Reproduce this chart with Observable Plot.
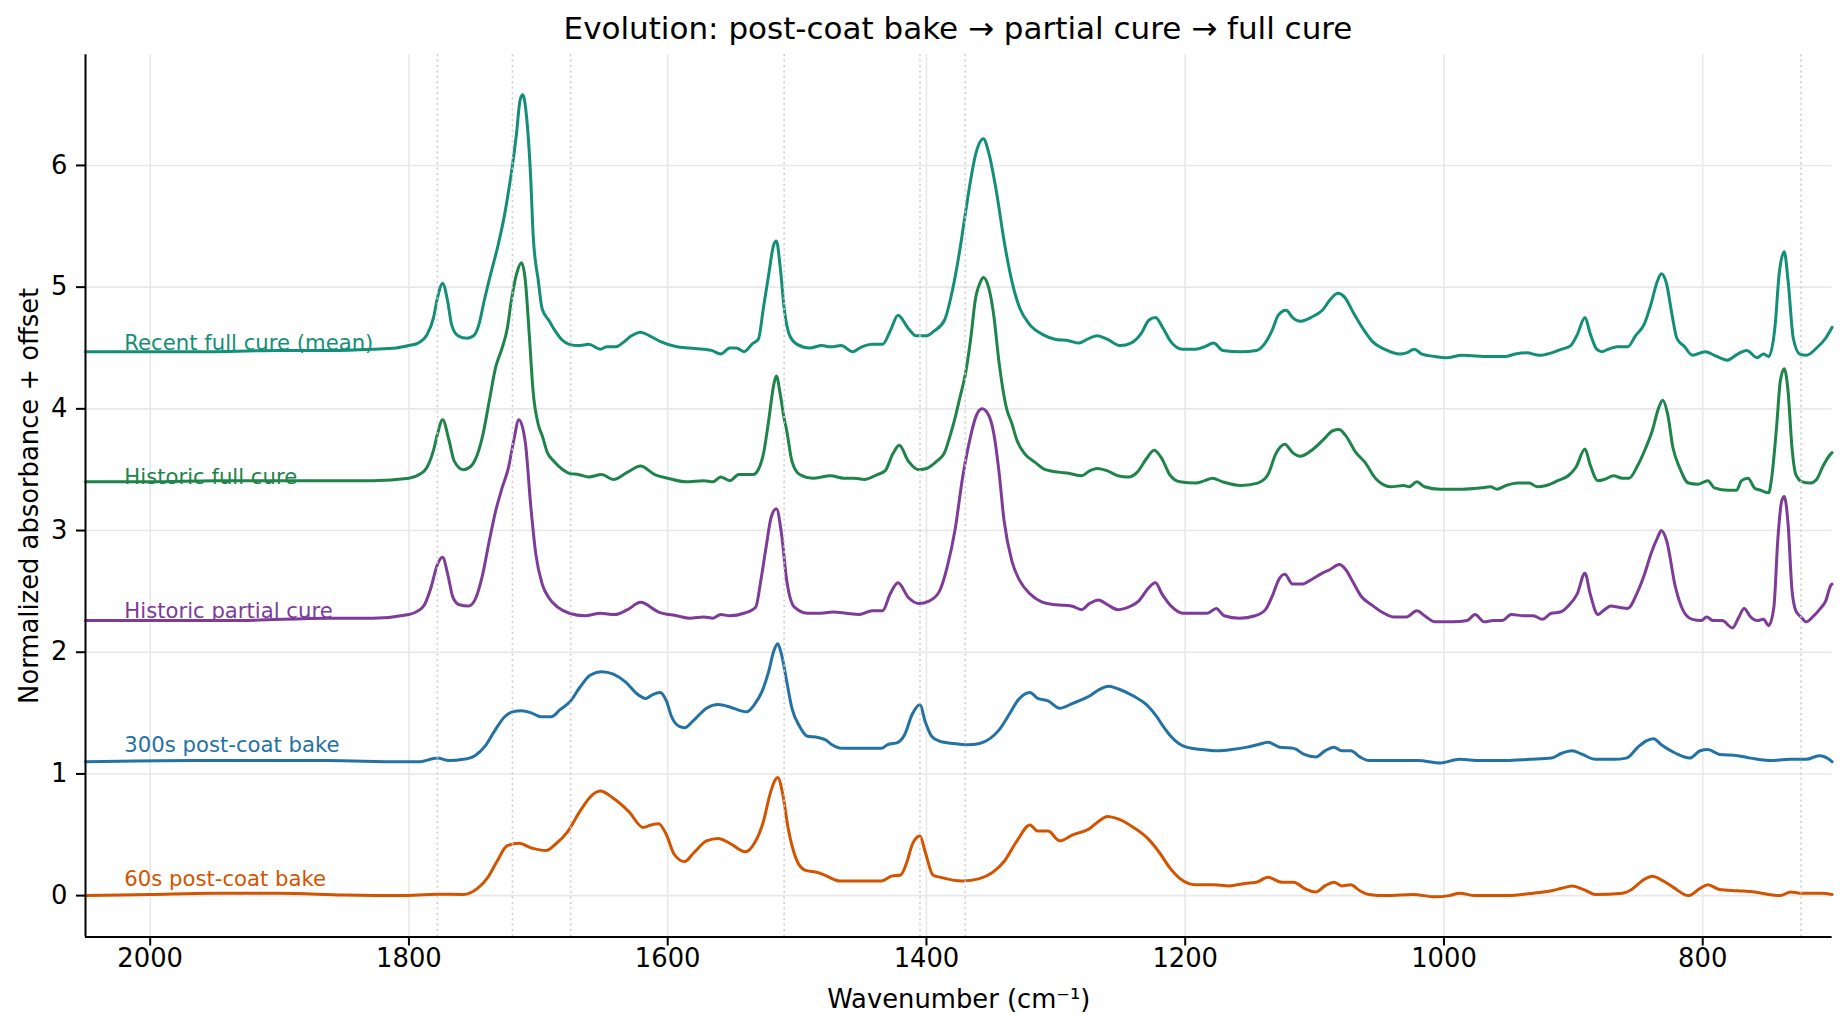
<!DOCTYPE html>
<html>
<head>
<meta charset="utf-8">
<script src="https://cdn.jsdelivr.net/npm/d3@7"></script>
<script src="https://cdn.jsdelivr.net/npm/@observablehq/plot@0.6"></script>
<style>
  html, body { margin: 0; padding: 0; background: white; }
  #wrap { position: relative; width: 1847px; height: 1031px; overflow: hidden; font-family: "DejaVu Sans", sans-serif; }
  #title { position: absolute; top: 13px; left: 958px; transform: translateX(-50%); white-space: nowrap;
           font-size: 31px; line-height: 31px; color: #000; }
  #chart { position: absolute; top: 48px; left: 0; }
</style>
</head>
<body>
<div id="wrap">
  <div id="title">Evolution: post-coat bake → partial cure → full cure</div>
  <div id="chart"></div>
</div>
<script>
// ---- data: [wavenumber (cm-1), normalized absorbance + offset] ----
const seriesNames = ["60s post-coat bake", "300s post-coat bake", "Historic partial cure", "Historic full cure", "Recent full cure (mean)"];
const seriesColors = ["#d35400", "#2471a3", "#7d3c98", "#1e8449", "#148f77"];
const seriesOffsets = [0, 1.1, 2.2, 3.3, 4.4];
const markerWavenumbers = [1778, 1720, 1675, 1510, 1405, 1370, 724];
const xTicks = [2000, 1800, 1600, 1400, 1200, 1000, 800];
const yTicks = [0, 1, 2, 3, 4, 5, 6];

const bake60 = [[2050,0.0],[2000,0.01],[1950,0.02],[1900,0.02],[1850,0.005],[1807,0.0],[1778,0.012],[1758,0.01],[1747,0.06],[1739,0.15],[1732,0.28],[1724,0.41],[1715,0.43],[1705,0.39],[1694,0.37],[1687,0.42],[1677,0.53],[1668,0.69],[1658,0.83],[1652,0.86],[1642,0.8],[1630,0.69],[1619,0.56],[1613,0.58],[1607,0.59],[1601,0.5],[1595,0.34],[1587,0.28],[1580,0.35],[1570,0.45],[1561,0.47],[1552,0.43],[1540,0.36],[1533,0.43],[1526,0.61],[1521,0.83],[1517,0.95],[1515,0.97],[1511,0.83],[1507,0.56],[1501,0.31],[1494,0.21],[1484,0.19],[1477,0.16],[1467,0.12],[1454,0.12],[1444,0.12],[1435,0.12],[1427,0.16],[1420,0.17],[1415,0.28],[1411,0.42],[1405,0.49],[1401,0.36],[1395,0.17],[1389,0.15],[1372,0.12],[1359,0.14],[1349,0.19],[1340,0.28],[1330,0.45],[1320,0.58],[1314,0.53],[1306,0.53],[1297,0.45],[1287,0.5],[1274,0.55],[1267,0.61],[1260,0.65],[1252,0.63],[1240,0.56],[1229,0.47],[1219,0.34],[1212,0.23],[1204,0.14],[1192,0.09],[1178,0.09],[1166,0.08],[1154,0.1],[1145,0.11],[1136,0.15],[1125,0.11],[1116,0.11],[1108,0.06],[1099,0.03],[1092,0.08],[1085,0.11],[1079,0.08],[1072,0.09],[1065,0.04],[1058,0.01],[1044,0.0],[1024,0.01],[1007,-0.01],[996,0.0],[988,0.02],[976,0.0],[952,0.0],[931,0.02],[917,0.04],[909,0.06],[901,0.08],[892,0.05],[883,0.01],[862,0.02],[855,0.05],[847,0.12],[839,0.16],[832,0.13],[823,0.07],[811,0.0],[802,0.06],[796,0.09],[787,0.05],[773,0.04],[760,0.03],[749,0.01],[740,0.0],[732,0.03],[725,0.02],[715,0.02],[708,0.02],[700,0.01]];

const bake300 = [[2050,1.1],[1966,1.11],[1932,1.11],[1863,1.11],[1807,1.1],[1792,1.1],[1778,1.13],[1769,1.11],[1758,1.12],[1749,1.15],[1741,1.23],[1734,1.35],[1726,1.47],[1720,1.51],[1713,1.52],[1705,1.5],[1698,1.47],[1690,1.47],[1683,1.53],[1675,1.6],[1668,1.71],[1660,1.81],[1651,1.84],[1642,1.82],[1632,1.75],[1625,1.67],[1617,1.62],[1612,1.65],[1606,1.67],[1601,1.6],[1597,1.47],[1591,1.39],[1587,1.38],[1580,1.44],[1570,1.54],[1561,1.57],[1552,1.55],[1544,1.52],[1539,1.51],[1533,1.57],[1527,1.68],[1522,1.84],[1518,2.01],[1515,2.07],[1512,1.98],[1508,1.76],[1504,1.54],[1498,1.39],[1492,1.31],[1484,1.3],[1478,1.28],[1473,1.24],[1465,1.21],[1454,1.21],[1443,1.21],[1435,1.21],[1430,1.24],[1422,1.26],[1417,1.32],[1411,1.49],[1405,1.57],[1401,1.43],[1396,1.31],[1390,1.27],[1379,1.25],[1368,1.24],[1359,1.25],[1351,1.29],[1344,1.36],[1336,1.49],[1329,1.61],[1320,1.67],[1314,1.62],[1306,1.6],[1297,1.54],[1287,1.58],[1274,1.64],[1267,1.69],[1259,1.72],[1252,1.7],[1240,1.64],[1229,1.56],[1222,1.47],[1217,1.39],[1212,1.32],[1205,1.25],[1199,1.22],[1187,1.2],[1175,1.19],[1164,1.2],[1152,1.22],[1144,1.24],[1136,1.26],[1127,1.22],[1116,1.21],[1108,1.16],[1099,1.14],[1092,1.19],[1085,1.22],[1079,1.19],[1072,1.19],[1065,1.14],[1058,1.11],[1044,1.11],[1020,1.11],[1003,1.09],[988,1.12],[972,1.11],[952,1.11],[934,1.12],[917,1.13],[909,1.17],[901,1.19],[893,1.16],[883,1.12],[869,1.12],[859,1.13],[850,1.22],[844,1.27],[838,1.29],[832,1.24],[821,1.17],[810,1.13],[802,1.19],[796,1.2],[787,1.16],[773,1.15],[763,1.13],[749,1.11],[732,1.12],[720,1.12],[710,1.15],[701,1.11],[700,1.1]];

const historicPartial = [[2050,2.26],[2000,2.26],[1932,2.26],[1863,2.28],[1828,2.28],[1800,2.31],[1793,2.34],[1788,2.39],[1783,2.53],[1778,2.72],[1774,2.78],[1770,2.64],[1766,2.45],[1761,2.39],[1754,2.38],[1749,2.43],[1743,2.64],[1738,2.91],[1733,3.16],[1728,3.35],[1723,3.52],[1719,3.74],[1715,3.91],[1710,3.72],[1706,3.22],[1702,2.81],[1697,2.56],[1692,2.45],[1685,2.37],[1676,2.32],[1664,2.3],[1652,2.32],[1641,2.31],[1631,2.35],[1621,2.41],[1607,2.33],[1593,2.3],[1583,2.28],[1572,2.29],[1565,2.28],[1559,2.31],[1552,2.3],[1541,2.32],[1532,2.37],[1528,2.59],[1524,2.86],[1520,3.11],[1516,3.18],[1512,2.97],[1508,2.59],[1502,2.37],[1492,2.32],[1484,2.32],[1472,2.33],[1462,2.32],[1452,2.31],[1442,2.34],[1434,2.34],[1428,2.48],[1422,2.57],[1414,2.45],[1406,2.4],[1398,2.42],[1390,2.5],[1384,2.7],[1378,3.0],[1372,3.44],[1366,3.77],[1362,3.93],[1357,4.0],[1352,3.95],[1348,3.8],[1344,3.49],[1340,3.08],[1334,2.75],[1328,2.59],[1320,2.48],[1310,2.41],[1300,2.39],[1288,2.38],[1280,2.35],[1274,2.4],[1267,2.43],[1260,2.39],[1252,2.35],[1242,2.38],[1236,2.42],[1229,2.52],[1223,2.57],[1218,2.48],[1210,2.37],[1202,2.32],[1192,2.32],[1183,2.32],[1176,2.36],[1170,2.3],[1158,2.28],[1146,2.3],[1138,2.35],[1132,2.48],[1128,2.59],[1123,2.64],[1117,2.56],[1110,2.56],[1102,2.6],[1094,2.65],[1088,2.68],[1081,2.72],[1076,2.68],[1070,2.57],[1064,2.46],[1056,2.39],[1048,2.33],[1039,2.29],[1029,2.29],[1021,2.34],[1015,2.3],[1007,2.25],[993,2.25],[982,2.26],[976,2.31],[969,2.25],[962,2.26],[955,2.26],[948,2.31],[938,2.3],[931,2.3],[924,2.27],[917,2.32],[910,2.33],[904,2.38],[897,2.48],[891,2.65],[887,2.48],[881,2.31],[877,2.34],[871,2.38],[865,2.37],[858,2.36],[851,2.48],[845,2.64],[840,2.81],[835,2.94],[832,3.0],[828,2.92],[821,2.53],[815,2.34],[808,2.27],[801,2.26],[797,2.29],[792,2.26],[785,2.26],[777,2.2],[772,2.29],[768,2.36],[763,2.29],[758,2.26],[753,2.27],[749,2.22],[745,2.37],[742,2.92],[739,3.24],[737,3.28],[734,3.05],[731,2.51],[728,2.34],[724,2.29],[720,2.25],[715,2.29],[709,2.36],[705,2.42],[701,2.55],[700,2.56]];

const historicFull = [[2050,3.4],[2000,3.4],[1950,3.41],[1900,3.41],[1860,3.41],[1828,3.41],[1800,3.43],[1792,3.46],[1786,3.52],[1781,3.66],[1778,3.79],[1774,3.91],[1769,3.74],[1765,3.57],[1758,3.5],[1752,3.53],[1746,3.66],[1743,3.78],[1738,4.06],[1733,4.34],[1728,4.5],[1724,4.66],[1721,4.88],[1717,5.1],[1713,5.2],[1710,5.05],[1707,4.61],[1704,4.14],[1700,3.87],[1697,3.78],[1693,3.64],[1688,3.57],[1681,3.5],[1676,3.47],[1669,3.46],[1661,3.44],[1651,3.46],[1642,3.42],[1631,3.48],[1621,3.53],[1610,3.46],[1600,3.43],[1586,3.4],[1572,3.41],[1565,3.4],[1559,3.44],[1552,3.41],[1545,3.46],[1534,3.46],[1530,3.5],[1526,3.63],[1522,3.9],[1518,4.2],[1516,4.27],[1513,4.12],[1510,3.92],[1508,3.82],[1504,3.57],[1498,3.46],[1488,3.43],[1474,3.45],[1464,3.43],[1456,3.43],[1448,3.42],[1438,3.46],[1432,3.49],[1426,3.63],[1421,3.7],[1414,3.57],[1406,3.5],[1400,3.51],[1392,3.57],[1386,3.64],[1382,3.77],[1378,3.92],[1374,4.1],[1370,4.28],[1366,4.56],[1362,4.91],[1358,5.05],[1356,5.08],[1352,5.0],[1348,4.77],[1344,4.39],[1338,4.0],[1334,3.88],[1330,3.74],[1324,3.63],[1316,3.56],[1308,3.5],[1298,3.48],[1290,3.47],[1280,3.45],[1274,3.49],[1268,3.51],[1260,3.49],[1252,3.45],[1244,3.44],[1237,3.48],[1230,3.59],[1224,3.66],[1218,3.59],[1212,3.46],[1204,3.4],[1192,3.39],[1185,3.41],[1179,3.43],[1171,3.4],[1157,3.37],[1144,3.39],[1136,3.46],[1130,3.63],[1123,3.71],[1117,3.64],[1111,3.61],[1101,3.67],[1092,3.76],[1086,3.82],[1081,3.83],[1076,3.78],[1068,3.64],[1061,3.56],[1053,3.43],[1041,3.36],[1031,3.37],[1027,3.36],[1021,3.4],[1015,3.36],[1003,3.34],[986,3.34],[972,3.35],[964,3.36],[959,3.34],[952,3.37],[943,3.39],[934,3.39],[928,3.36],[921,3.37],[912,3.41],[904,3.45],[898,3.52],[891,3.67],[887,3.54],[881,3.41],[876,3.42],[869,3.45],[862,3.43],[857,3.43],[850,3.54],[844,3.68],[839,3.82],[834,4.01],[831,4.07],[827,3.95],[823,3.68],[818,3.52],[811,3.39],[804,3.38],[796,3.41],[791,3.35],[780,3.33],[774,3.33],[770,3.41],[765,3.43],[760,3.35],[755,3.33],[749,3.31],[747,3.41],[743,3.84],[740,4.23],[737,4.33],[734,4.14],[731,3.68],[728,3.46],[723,3.4],[717,3.39],[712,3.42],[707,3.53],[701,3.63],[700,3.64]];

const recentFull = [[2050,4.47],[2000,4.47],[1950,4.47],[1900,4.48],[1860,4.48],[1828,4.49],[1810,4.5],[1800,4.52],[1793,4.54],[1786,4.61],[1781,4.75],[1778,4.91],[1774,5.03],[1770,4.88],[1767,4.69],[1762,4.6],[1755,4.58],[1750,4.6],[1746,4.69],[1742,4.88],[1737,5.1],[1731,5.35],[1726,5.6],[1723,5.79],[1720,6.0],[1717,6.25],[1714,6.54],[1712,6.58],[1709,6.39],[1706,5.92],[1704,5.43],[1700,5.05],[1697,4.82],[1692,4.73],[1687,4.64],[1682,4.57],[1676,4.53],[1669,4.52],[1661,4.53],[1652,4.49],[1647,4.51],[1640,4.51],[1635,4.54],[1628,4.6],[1621,4.63],[1614,4.6],[1605,4.55],[1593,4.51],[1583,4.5],[1572,4.49],[1566,4.48],[1559,4.45],[1552,4.5],[1547,4.5],[1541,4.47],[1534,4.54],[1530,4.57],[1526,4.83],[1522,5.1],[1518,5.35],[1516,5.38],[1513,5.16],[1510,4.83],[1506,4.61],[1500,4.53],[1490,4.5],[1481,4.52],[1474,4.51],[1466,4.52],[1457,4.47],[1450,4.51],[1442,4.53],[1434,4.53],[1428,4.64],[1422,4.77],[1414,4.66],[1408,4.6],[1400,4.6],[1394,4.64],[1386,4.73],[1380,4.97],[1374,5.32],[1370,5.6],[1366,5.87],[1362,6.09],[1356,6.22],[1352,6.11],[1346,5.79],[1340,5.38],[1334,5.05],[1328,4.83],[1320,4.69],[1310,4.61],[1300,4.57],[1290,4.56],[1282,4.54],[1276,4.57],[1268,4.6],[1260,4.57],[1250,4.52],[1242,4.54],[1234,4.62],[1228,4.73],[1223,4.75],[1217,4.66],[1211,4.55],[1202,4.49],[1192,4.49],[1185,4.51],[1178,4.54],[1171,4.48],[1157,4.47],[1145,4.48],[1139,4.53],[1133,4.64],[1128,4.77],[1122,4.81],[1117,4.75],[1111,4.72],[1103,4.75],[1094,4.81],[1087,4.91],[1082,4.95],[1077,4.92],[1070,4.79],[1062,4.65],[1055,4.55],[1046,4.49],[1034,4.45],[1029,4.46],[1023,4.49],[1017,4.45],[1007,4.43],[998,4.42],[986,4.44],[965,4.43],[953,4.43],[945,4.45],[936,4.46],[926,4.44],[917,4.46],[909,4.49],[902,4.52],[897,4.61],[891,4.75],[887,4.62],[882,4.49],[878,4.47],[873,4.49],[866,4.51],[858,4.51],[852,4.6],[845,4.7],[840,4.86],[835,5.05],[832,5.11],[828,5.03],[824,4.79],[820,4.58],[814,4.51],[808,4.44],[798,4.47],[791,4.44],[781,4.4],[773,4.45],[766,4.48],[758,4.42],[753,4.45],[749,4.43],[744,4.69],[741,5.1],[737,5.29],[734,5.05],[730,4.58],[725,4.45],[720,4.44],[712,4.5],[705,4.58],[700,4.67]];

const seriesData = [bake60, bake300, historicPartial, historicFull, recentFull];
const labelWavenumber = 2020;

// ---- build ----
const W = 1847, H = 983;
const lineMarks = seriesData.map((data, i) =>
  Plot.line(data, {x: d => d[0], y: d => d[1], stroke: seriesColors[i], strokeWidth: 3, curve: "monotone-x"})
);
const labelMarks = seriesNames.map((name, i) =>
  Plot.text([name], {x: labelWavenumber, y: seriesOffsets[i] + 0.08, text: d => d, fill: seriesColors[i],
    textAnchor: "start", lineAnchor: "bottom", fontSize: 21.2})
);

const chart = Plot.plot({
  width: W, height: H,
  marginLeft: 85, marginRight: 15.4, marginTop: 6.2, marginBottom: 94.5,
  style: {fontFamily: "DejaVu Sans", fontSize: "25.8px", background: "white", color: "#000"},
  x: {domain: [2050, 700]},
  y: {domain: [-0.34, 6.91]},
  marks: [
    Plot.gridX(xTicks, {stroke: "#e8e8e8", strokeOpacity: 1, strokeWidth: 1.6}),
    Plot.gridY(yTicks, {stroke: "#e8e8e8", strokeOpacity: 1, strokeWidth: 1.6}),
    ...lineMarks,
    Plot.ruleX(markerWavenumbers, {stroke: "#cdcdcd", strokeWidth: 1.6, strokeDasharray: "2,3.4"}),
    ...labelMarks,
    Plot.ruleX([2050], {stroke: "#000", strokeWidth: 2}),
    Plot.ruleY([-0.34], {stroke: "#000", strokeWidth: 2}),
    Plot.axisX({ticks: xTicks, tickFormat: d => String(d), tickSize: 9, tickPadding: 3, fontSize: 25.8, strokeWidth: 2, label: null}),
    Plot.axisY({ticks: yTicks, tickFormat: d => String(d), tickSize: 9, tickPadding: 9, fontSize: 25.8, strokeWidth: 2, label: null}),
    Plot.text(["Wavenumber (cm⁻¹)"], {frameAnchor: "bottom", text: d => d, dy: 71, lineAnchor: "bottom", textAnchor: "middle", fontSize: 25.8, fill: "#000"}),
    Plot.text(["Normalized absorbance + offset"], {frameAnchor: "left", text: d => d, dx: -47.5, rotate: -90, lineAnchor: "bottom", textAnchor: "middle", fontSize: 25.8, fill: "#000"})
  ]
});
document.getElementById("chart").appendChild(chart);
</script>
</body>
</html>
